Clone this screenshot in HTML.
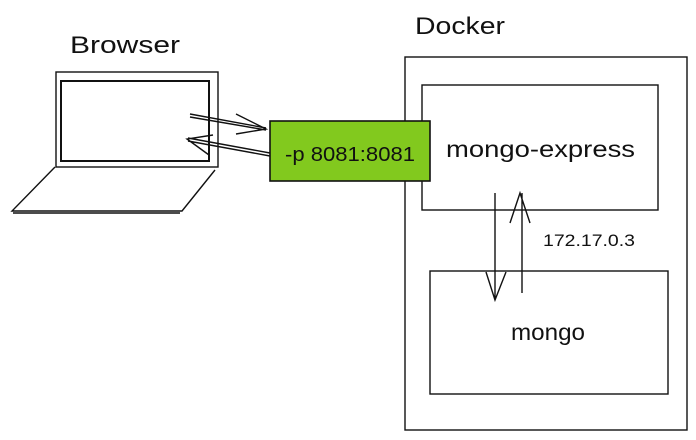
<!DOCTYPE html>
<html><head><style>
html,body{margin:0;padding:0;background:#fff;width:696px;height:440px;overflow:hidden}
svg text{font-family:"Comic Sans MS","Liberation Sans",sans-serif;fill:#111}
</style></head><body>
<svg width="696" height="440" viewBox="0 0 696 440" xmlns="http://www.w3.org/2000/svg">
<g fill="none" stroke="#111" stroke-width="1.4">
<rect x="56" y="72" width="162" height="95"/>
<rect x="61" y="81" width="148" height="80" stroke-width="2"/>
<path d="M55 167 L12 211 L182 211 L215 170"/>
<path d="M13 213 L180 213"/>
<path d="M190 114 L266 128 M190 117 L266 130 M236 114 L266 129 L236 134"/>
<path d="M270 153 L188 138 M270 156 L188 141 M213 135 L187 139 L209 155"/>
<rect x="405" y="57" width="282" height="373"/>
<rect x="422" y="85" width="236" height="125"/>
<rect x="430" y="271" width="238" height="123"/>
<path d="M495 193 L495 300 M486 272 L495 300 L506 272"/>
<path d="M522 293 L522 193 M510 223 L520 193 L530 223"/>
</g>
<rect x="270" y="121" width="160" height="60" fill="#82c91e" stroke="#111" stroke-width="1.6"/>
<text x="70" y="53" font-size="24" textLength="110" lengthAdjust="spacingAndGlyphs">Browser</text>
<text x="415" y="34" font-size="24" textLength="90" lengthAdjust="spacingAndGlyphs">Docker</text>
<text x="285" y="161" font-size="20" textLength="130" lengthAdjust="spacingAndGlyphs">-p 8081:8081</text>
<text x="446" y="157" font-size="23" textLength="189" lengthAdjust="spacingAndGlyphs">mongo-express</text>
<text x="511" y="340" font-size="23" textLength="74" lengthAdjust="spacingAndGlyphs">mongo</text>
<text x="543" y="246" font-size="17" textLength="92" lengthAdjust="spacingAndGlyphs">172.17.0.3</text>
</svg>
</body></html>
